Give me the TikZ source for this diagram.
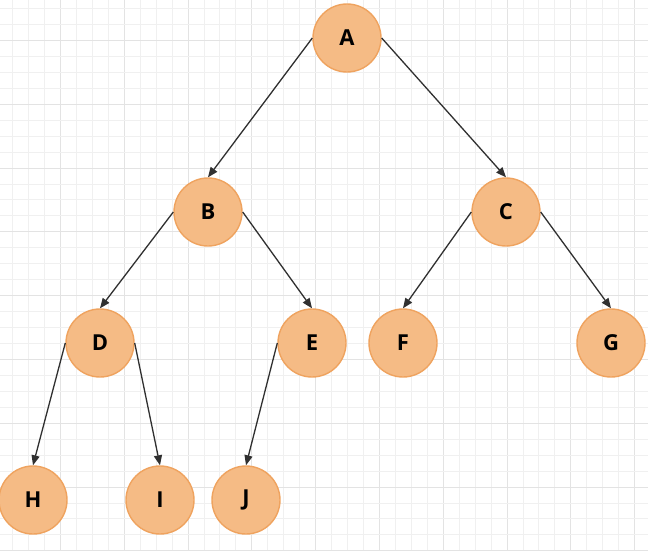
\documentclass[tikz,border=0pt]{standalone}
\usepackage{fontspec}
\setmainfont{Open Sans}
\usetikzlibrary{arrows.meta}
\definecolor{nodefill}{HTML}{F5BB85}
\definecolor{nodeline}{HTML}{EFA35F}
\definecolor{gridminor}{HTML}{F0F0F0}
\definecolor{gridmajor}{HTML}{E3E3E3}
\definecolor{edgecol}{HTML}{303030}
\tikzset{
  treenode/.style={circle, minimum size=68pt, inner sep=0pt, fill=nodefill, draw=nodeline, line width=1.4pt, font=\fontsize{22}{22}\selectfont\bfseries, text=black},
  edge/.style={draw=edgecol, line width=1.3pt, -{Triangle[length=10pt,width=8pt]}},
  minorline/.style={draw=gridminor, line width=1.2pt},
  majorline/.style={draw=gridmajor, line width=1.2pt}
}
\begin{document}
\begin{tikzpicture}[x=1pt,y=-1pt]
\useasboundingbox (0,0) rectangle (648,550);
\fill[white] (0,0) rectangle (648,550);
% grid
\foreach \k in {-4,...,37} {
  \pgfmathsetmacro{\gx}{round(60+15.95*\k)+0.5}
  \pgfmathtruncatemacro{\m}{mod(\k+40,4)}
  \ifnum\m=0
    \path[majorline] (\gx,0) -- (\gx,550);
  \else
    \path[minorline] (\gx,0) -- (\gx,550);
  \fi
}
\foreach \k in {-4,...,33} {
  \pgfmathsetmacro{\gy}{round(40+15.95*\k)+0.5}
  \pgfmathtruncatemacro{\m}{mod(\k+40,4)}
  \ifnum\m=0
    \path[majorline] (0,\gy) -- (648,\gy);
  \else
    \path[minorline] (0,\gy) -- (648,\gy);
  \fi
}
% nodes
\node[treenode] (A) at (347,38) {A};
\node[treenode] (B) at (208,212) {B};
\node[treenode] (C) at (506,212) {C};
\node[treenode] (D) at (100,343) {D};
\node[treenode] (E) at (312,343) {E};
\node[treenode] (F) at (403,343) {F};
\node[treenode] (G) at (611,343) {G};
\node[treenode] (H) at (33,500) {H};
\node[treenode] (I) at (160,500) {I};
\node[treenode] (J) at (246,500) {J};
% edges
\draw[edge] (A.west) -- (B.north);
\draw[edge] (A.east) -- (C.north);
\draw[edge] (B.west) -- (D.north);
\draw[edge] (B.east) -- (E.north);
\draw[edge] (C.west) -- (F.north);
\draw[edge] (C.east) -- (G.north);
\draw[edge] (D.west) -- (H.north);
\draw[edge] (D.east) -- (I.north);
\draw[edge] (E.west) -- (J.north);
\end{tikzpicture}
\end{document}
